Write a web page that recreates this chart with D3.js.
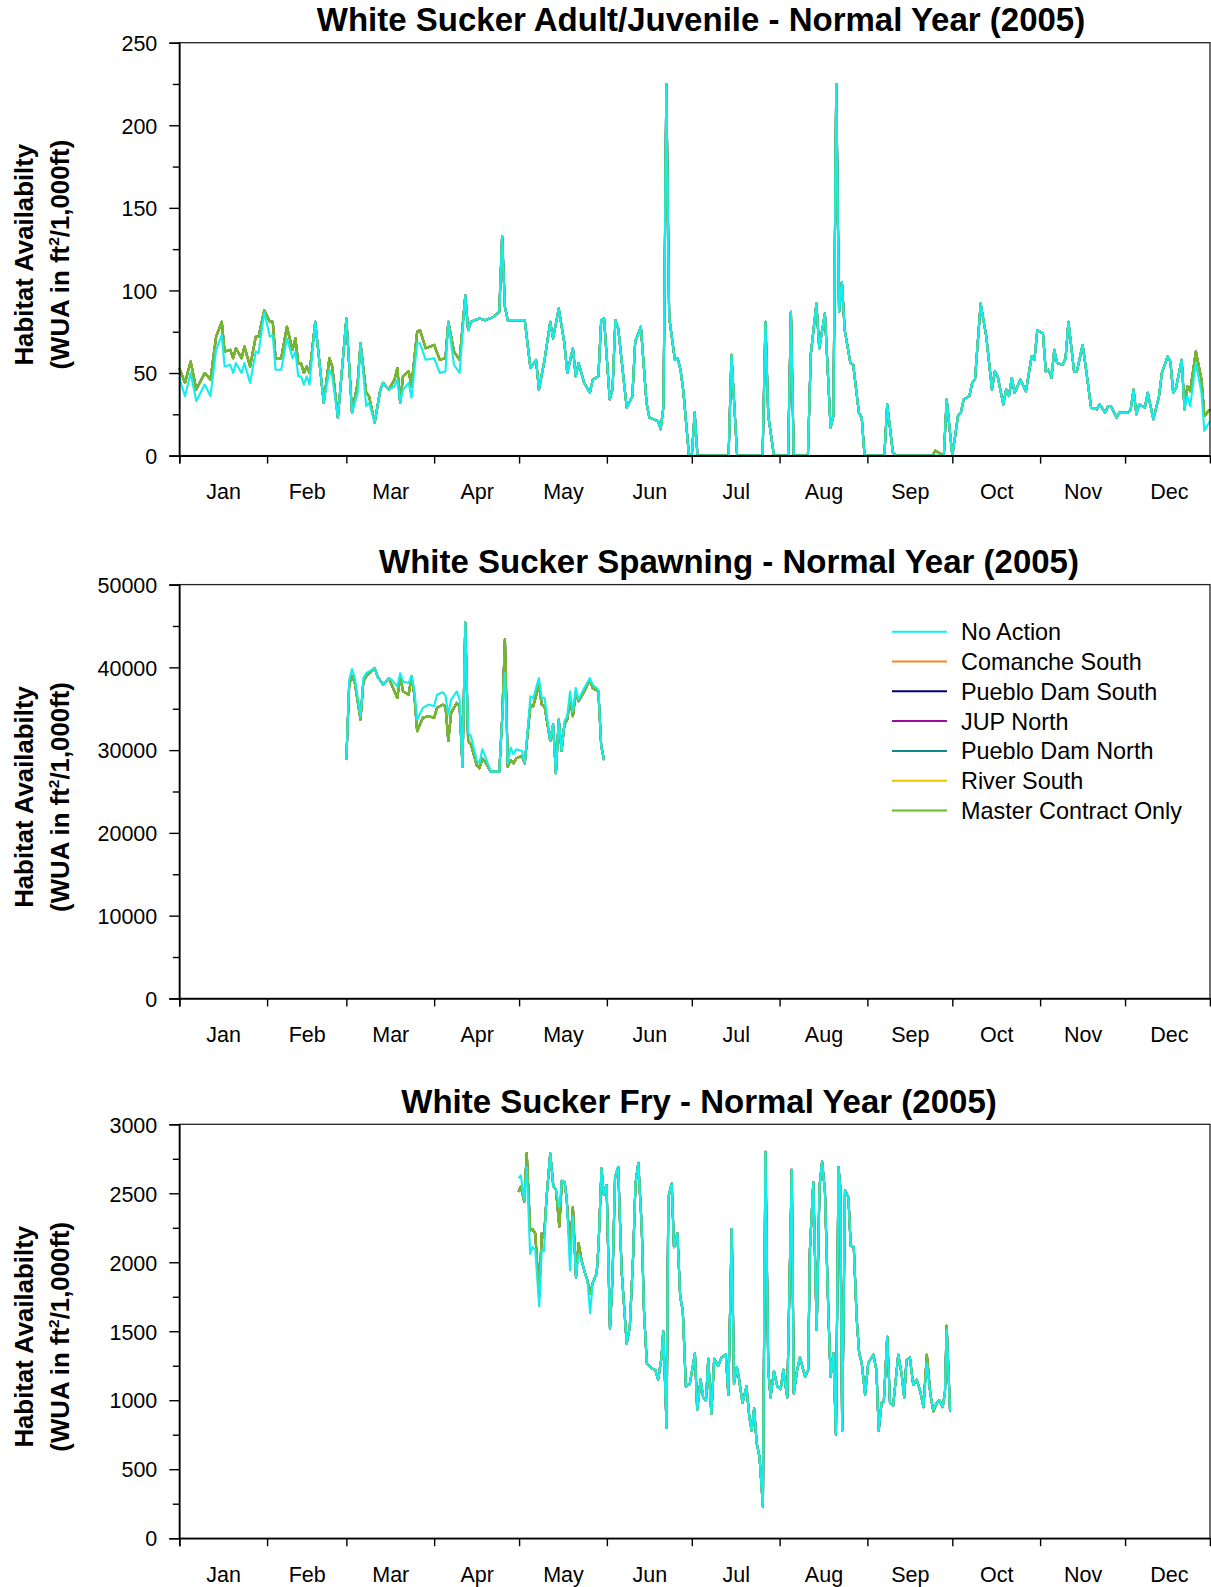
<!DOCTYPE html>
<html><head><meta charset="utf-8">
<script src="https://cdn.jsdelivr.net/npm/d3@7/dist/d3.min.js"></script>
<style>body{margin:0;background:#fff}svg{display:block}</style>
</head><body>
<svg id="chart" width="1211" height="1587"></svg>
<script>
// ---------- categories / labels ----------
const monthLabels = ["Jan","Feb","Mar","Apr","May","Jun","Jul","Aug","Sep","Oct","Nov","Dec"];
const monthStarts = [0,31,59,90,120,151,181,212,243,273,304,334];
const monthLengths = [31,28,31,30,31,30,31,31,30,31,30,31];
const seriesNames = ["No Action","Comanche South","Pueblo Dam South","JUP North","Pueblo Dam North","River South","Master Contract Only"];
const seriesColors = ["#12eeee","#f7861f","#00007a","#9a0f9a","#0b8a86","#ebc500","#6cbb2c"];
const chartTitles = ["White Sucker Adult/Juvenile - Normal Year (2005)","White Sucker Spawning - Normal Year (2005)","White Sucker Fry - Normal Year (2005)"];
const adultTicks = [0,50,100,150,200,250];
const spawnTicks = [0,10000,20000,30000,40000,50000];
const fryTicks = [0,500,1000,1500,2000,2500,3000];

// ---------- Adult/Juvenile (day of year, WUA) ----------
const adultDays = [0,2,4,6,9,11,13,15,16,18,19,20,22,23,25,27,28,30,32,33,34,36,38,40,41,42,43,44,45,46,48,51,53,54,56,59,61,63,64,66,67,69,71,72,74,76,77,78,79,81,82,84,85,87,90,92,94,95,97,99,101,102,103,106,108,111,113,114,115,116,119,122,124,126,127,129,131,132,134,136,137,139,140,141,143,145,146,148,149,150,152,153,154,155,158,160,161,163,165,166,169,170,171,172,173,175,176,177,178,180,181,182,183,194,195,197,206,207,208,210,215,216,217,222,223,225,226,228,230,231,232,233,234,235,237,238,240,241,242,249,250,252,253,266,267,270,271,273,275,276,277,279,280,281,283,285,287,288,289,291,292,293,294,295,297,299,301,302,303,305,306,307,308,309,310,312,313,314,316,317,319,320,322,324,325,327,328,329,331,332,335,336,337,338,339,341,342,344,346,347,349,350,351,352,354,355,356,357,359,361,362,364];
const adultMaster = [53,44,57,40,50,46,72,81,63,64,59,65,59,66,54,72,72,88,81,81,59,59,78,64,71,56,56,50,54,50,81,32,59,54,23,83,26,44,68,38,36,20,40,44,40,46,53,32,48,51,42,75,76,65,67,58,59,81,63,58,97,76,81,83,82,84,87,133,90,82,82,82,53,58,40,58,81,71,89,68,50,65,48,56,44,38,46,48,82,83,34,40,82,77,29,36,69,78,32,23,21,16,30,225,84,58,59,52,39,0,0,26,0,0,61,0,0,81,24,0,0,87,0,0,61,92,65,86,17,24,225,87,105,76,56,55,26,23,0,0,31,2,0,0,3,0,34,0,24,26,34,36,44,46,92,72,40,51,48,31,40,36,47,38,46,39,60,58,76,74,51,52,47,64,56,55,59,81,51,51,67,55,29,28,31,26,30,30,23,26,26,28,40,25,31,29,38,22,36,50,60,57,38,41,58,28,42,39,63,46,24,28];
const adultNoAction = [47,36,50,33,43,36,64,73,54,55,50,56,50,56,44,63,62,87,72,73,52,52,71,59,63,48,48,43,48,43,81,32,52,48,23,83,26,38,68,30,32,20,40,44,40,42,46,32,40,44,35,68,68,58,59,50,51,81,55,50,97,76,81,83,82,84,87,133,90,82,82,82,53,58,40,58,81,71,89,68,50,65,48,56,44,38,46,48,82,83,34,40,82,77,29,36,69,78,32,23,21,16,30,225,84,58,59,52,39,0,0,26,0,0,61,0,0,81,24,0,0,87,0,0,61,92,65,86,17,24,225,87,105,76,56,55,26,23,0,0,31,2,0,0,0,0,34,0,24,26,34,36,44,46,92,72,40,51,48,31,40,36,47,38,46,39,60,58,76,74,51,52,47,64,56,55,59,81,51,51,67,55,29,28,31,26,30,30,23,26,26,28,40,25,31,29,38,22,36,50,60,57,38,41,58,28,36,30,56,38,15,21];
// the five other alternatives overlap Master Contract Only in the picture
const adultComancheSouth = adultMaster, adultPuebloDamSouth = adultMaster, adultJUPNorth = adultMaster, adultPuebloDamNorth = adultMaster, adultRiverSouth = adultMaster;

// ---------- Spawning ----------
const spawnDays = [59,60,61,62,64,65,66,69,70,72,74,75,77,78,79,81,82,83,84,86,88,90,91,93,94,95,96,98,99,100,101,102,103,105,106,107,108,110,113,114,115,116,117,118,119,121,122,124,125,127,128,129,131,132,133,134,135,136,137,138,139,140,141,143,145,146,148,149,150];
const spawnNoAction = [28900,38500,39800,38700,34100,38700,39300,39900,38900,37900,38700,38500,37700,39300,38300,38100,39000,37300,33700,35100,35500,35300,36700,37000,36600,34300,36100,37100,36100,28000,45400,32100,31700,28800,28400,30100,29300,27400,27400,33700,39300,28400,30300,29500,30100,29900,28400,36500,36300,38700,36300,36300,31100,33100,27200,33700,29900,33500,34100,37100,34700,37500,36100,37500,38700,37900,37300,30500,28800];
const spawnMaster = [28900,37900,39000,38100,33700,38300,38900,39900,38900,37900,38700,37900,36300,38900,37100,36700,38900,36700,32300,33900,34100,33900,35100,35500,35300,31100,34500,35700,35300,28000,45400,31100,30700,28200,27800,29000,28600,27400,27400,33700,43400,28000,28800,28400,29000,29300,28400,35500,35300,37900,35500,35300,31100,33100,27200,33700,29900,33100,33700,36100,34100,36900,35900,37100,38500,37500,37100,30500,28800];
const spawnComancheSouth = spawnMaster, spawnPuebloDamSouth = spawnMaster, spawnJUPNorth = spawnMaster, spawnPuebloDamNorth = spawnMaster, spawnRiverSouth = spawnMaster;

// ---------- Fry ----------
const fryDays = [119.8,120.6,121.8,122.7,123.9,124.7,125.7,127.1,128.0,128.8,129.7,131.0,132.1,133.0,134.2,135.1,136.1,136.8,138.0,139.0,140.1,141.0,142.1,143.3,144.1,145.1,146.0,147.4,148.1,149.1,149.9,150.9,152.1,153.0,153.9,155.0,156.2,158.0,159.1,160.3,161.1,162.1,163.3,164.1,165.1,166.9,168.1,169.1,170.3,170.9,172.1,172.7,173.9,174.7,175.9,176.9,177.8,178.9,180.3,182.1,182.9,184.1,185.0,186.0,186.8,187.9,188.9,190.3,191.5,193.0,193.9,195.1,195.9,196.9,197.7,198.9,200.3,201.3,202.1,203.0,203.9,204.9,206.1,207.0,208.0,208.8,210.0,211.2,212.4,213.3,214.7,216.3,217.0,218.2,219.2,221.0,222.1,222.7,223.9,225.1,226.1,227.0,228.0,229.2,230.0,231.0,231.9,232.8,233.4,234.1,235.1,236.3,237.1,238.2,239.2,240.1,241.0,242.2,243.3,245.1,246.2,247.0,248.0,248.8,250.0,251.0,252.1,253.9,255.1,256.0,256.8,258.0,259.2,260.4,261.6,262.8,264.0,265.2,266.3,267.5,268.4,269.6,270.4,271.0,272.2];
const fryNoAction = [2610,2630,2450,2690,2060,2110,2090,1680,2090,2080,2470,2790,2550,2530,2400,2590,2580,2460,1940,2330,1890,2060,2010,1920,1870,1630,1850,1920,2140,2680,2490,2560,1520,1890,2620,2690,1940,1410,1530,2060,2570,2720,2260,1650,1270,1230,1220,1150,1310,1500,800,2470,2570,2110,2210,1750,1650,1100,1120,1340,930,1150,1020,1000,1300,900,1300,1250,1310,1330,1040,2240,1120,1240,1150,980,1100,880,780,940,690,590,230,2800,1220,1020,1210,1100,1080,1220,1020,2670,1050,1220,1310,1170,1220,2090,2580,1510,2550,2730,2520,1650,1170,1340,750,2690,2550,780,2520,2470,2120,2110,1600,1340,1270,1040,1270,1330,1220,780,980,990,1460,980,960,1330,1190,1020,1290,1310,1110,1150,1070,950,1270,1050,930,980,1000,950,1060,1510,920];
const fryMaster = [2510,2550,2440,2790,2230,2240,2210,1750,2210,2180,2470,2790,2550,2530,2260,2590,2580,2460,2090,2400,1890,2140,2010,1920,1870,1770,1850,1920,2140,2680,2490,2560,1520,1890,2620,2690,1940,1410,1530,2060,2570,2720,2260,1650,1270,1230,1220,1150,1310,1500,800,2470,2570,2110,2210,1750,1650,1100,1120,1340,930,1150,1020,1000,1300,900,1300,1250,1310,1330,1040,2240,1120,1240,1150,980,1100,880,780,940,690,590,230,2800,1220,1020,1210,1100,1080,1220,1020,2670,1050,1220,1310,1170,1220,2090,2580,1510,2550,2730,2520,1650,1170,1340,750,2690,2550,780,2520,2470,2120,2110,1600,1340,1270,1040,1270,1330,1220,780,980,990,1460,980,960,1330,1190,1020,1290,1310,1110,1150,1070,950,1330,1050,920,980,1000,950,1060,1540,920];
const fryComancheSouth = fryMaster, fryPuebloDamSouth = fryMaster, fryJUPNorth = fryMaster, fryPuebloDamNorth = fryMaster, fryRiverSouth = fryMaster;

// ---------- layout ----------
const FONT = "'Liberation Sans', Arial, Helvetica, sans-serif";
const plotLeft = 179.3, plotRight = 1210;
const panels = [
  {title: chartTitles[0], titleX: 701, top: 42.7, bottom: 455.6, ticks: adultTicks, minorStep: 25, days: adultDays,
   values: [adultNoAction, adultComancheSouth, adultPuebloDamSouth, adultJUPNorth, adultPuebloDamNorth, adultRiverSouth, adultMaster]},
  {title: chartTitles[1], titleX: 729, top: 584.6, bottom: 998.4, ticks: spawnTicks, minorStep: 5000, days: spawnDays, legend: true,
   values: [spawnNoAction, spawnComancheSouth, spawnPuebloDamSouth, spawnJUPNorth, spawnPuebloDamNorth, spawnRiverSouth, spawnMaster]},
  {title: chartTitles[2], titleX: 699, top: 1124.3, bottom: 1538.2, ticks: fryTicks, minorStep: 250, days: fryDays,
   values: [fryNoAction, fryComancheSouth, fryPuebloDamSouth, fryJUPNorth, fryPuebloDamNorth, fryRiverSouth, fryMaster]}
];

const svg = d3.select("#chart");
svg.append("rect").attr("width",1211).attr("height",1587).attr("fill","#fff");

const x = d3.scaleLinear().domain([0,364]).range([plotLeft, plotRight]);

panels.forEach(p => {
  const yMax = p.ticks[p.ticks.length-1];
  const y = d3.scaleLinear().domain([0, yMax]).range([p.bottom, p.top]);
  const g = svg.append("g");

  // title
  g.append("text").attr("x", p.titleX).attr("y", p.top - 11.3)
    .attr("text-anchor","middle").attr("font-family",FONT).attr("font-weight","bold")
    .attr("font-size",33).attr("fill","#000").text(p.title);

  // y label
  const cy = (p.top + p.bottom)/2 + 5.5;
  const yl = g.append("g").attr("font-family",FONT).attr("font-weight","bold").attr("font-size",25.8).attr("fill","#000");
  yl.append("text").attr("transform",`translate(33,${cy}) rotate(-90)`).attr("text-anchor","middle").text("Habitat Availabilty");
  const t2 = yl.append("text").attr("transform",`translate(68.5,${cy}) rotate(-90)`).attr("text-anchor","middle");
  t2.append("tspan").text("(WUA in ft");
  t2.append("tspan").attr("font-size",15.5).attr("dy",-10).text("2");
  t2.append("tspan").attr("dy",10).text("/1,000ft)");

  // data lines: alternatives first, Master Contract, then No Action on top
  const line = d3.line().x(d => x(d[0])).y(d => y(d[1]));
  const order = [1,2,3,4,5,6,0];
  order.forEach(i => {
    const pts = p.days.map((d,k) => [d, p.values[i][k]]);
    g.append("path").attr("d", line(pts)).attr("fill","none")
      .attr("stroke", seriesColors[i]).attr("stroke-width", 2.1)
      .attr("stroke-linejoin","round");
  });

  // frame
  g.append("rect").attr("x",plotLeft).attr("y",p.top).attr("width",plotRight-plotLeft).attr("height",p.bottom-p.top)
    .attr("fill","none").attr("stroke","#222").attr("stroke-width",1.3);

  // y axis major
  const yAxis = d3.axisLeft(y).tickValues(p.ticks).tickSize(10).tickPadding(12).tickFormat(d3.format("d"));
  const ya = g.append("g").attr("transform",`translate(${plotLeft},0)`).call(yAxis);
  ya.select(".domain").attr("stroke","#000").attr("stroke-width",1.6);
  ya.selectAll(".tick line").attr("stroke","#000").attr("stroke-width",1.4);
  ya.selectAll(".tick text").attr("font-family",FONT).attr("font-size",21.5).attr("fill","#000").attr("dy","0.36em");
  // y axis minor
  const minors = d3.range(p.minorStep, yMax, p.minorStep*2);
  const ym = g.append("g").attr("transform",`translate(${plotLeft},0)`)
    .call(d3.axisLeft(y).tickValues(minors).tickSize(6.5).tickFormat(""));
  ym.select(".domain").remove();
  ym.selectAll(".tick line").attr("stroke","#000").attr("stroke-width",1.4);

  // x axis ticks at month starts
  const xa = g.append("g").attr("transform",`translate(0,${p.bottom})`)
    .call(d3.axisBottom(x).tickValues(monthStarts).tickSize(8).tickFormat(""));
  xa.select(".domain").attr("stroke","#000").attr("stroke-width",1.6);
  xa.selectAll(".tick line").attr("stroke","#000").attr("stroke-width",1.4);
  // month labels at mid-month
  const mids = monthStarts.map((s,i) => s + monthLengths[i]/2);
  const xl = g.append("g").attr("transform",`translate(0,${p.bottom})`)
    .call(d3.axisBottom(x).tickValues(mids).tickSize(0).tickFormat((d,i) => monthLabels[i]));
  xl.select(".domain").remove();
  xl.selectAll(".tick text").attr("font-family",FONT).attr("font-size",21.5).attr("fill","#000")
    .attr("y",43.5).attr("dy",0);

  // legend
  if (p.legend) {
    const lg = g.append("g");
    seriesNames.forEach((n,i) => {
      const ly = 631.7 + i*29.8;
      lg.append("line").attr("x1",892).attr("x2",947).attr("y1",ly).attr("y2",ly)
        .attr("stroke",seriesColors[i]).attr("stroke-width",2);
      lg.append("text").attr("x",961).attr("y",ly).attr("dy","0.36em")
        .attr("font-family",FONT).attr("font-size",23.4).attr("fill","#000").text(n);
    });
  }
});
</script>
</body></html>
